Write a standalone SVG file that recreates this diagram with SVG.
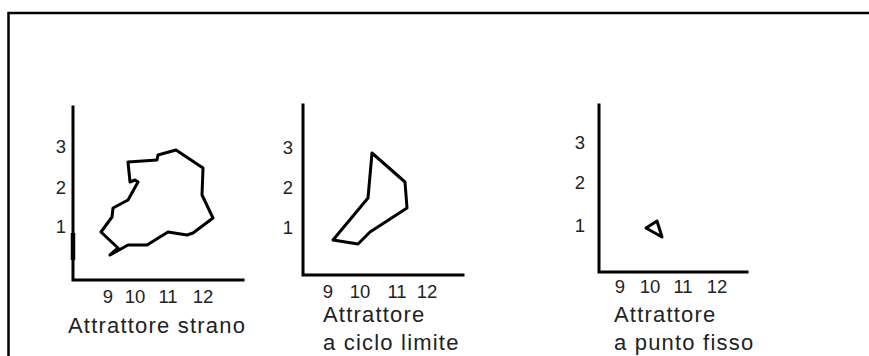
<svg xmlns="http://www.w3.org/2000/svg" width="869" height="356" viewBox="0 0 869 356">
<style>
.ax{fill:none;stroke:#000;stroke-width:3;stroke-linecap:square}
.cv{fill:none;stroke:#000;stroke-width:3;stroke-linejoin:round}
.n{font-family:"Liberation Sans",Arial,sans-serif;font-size:18.5px;fill:#222;text-anchor:middle}
.t{font-family:"Liberation Sans",Arial,sans-serif;font-size:22px;letter-spacing:1.2px;fill:#222}
</style>
<rect width="869" height="356" fill="#fff"/>
<path d="M8.5,356 V13 H869" fill="none" stroke="#000" stroke-width="2.5"/>
<g id="strano">
<path class="ax" d="M73,107 V280 H243"/>
<path d="M73,233 V260" stroke="#000" stroke-width="4.5"/>
<polygon class="cv" points="128,162 157,160 158,155 176,150 203,168 202,195 213,218 193,233 187,235 168,232 147,245 128,245 110,255 118,248 101,232 112,217 113,208 128,200 138,182 135,180 130,182"/>
<text class="n" x="61" y="153">3</text>
<text class="n" x="61" y="194">2</text>
<text class="n" x="61" y="233">1</text>
<text class="n" x="108" y="303">9</text>
<text class="n" x="135" y="303">10</text>
<text class="n" x="168" y="303">11</text>
<text class="n" x="203" y="303">12</text>
<text class="t" x="68" y="333">Attrattore strano</text>
</g>
<g id="ciclo">
<path class="ax" d="M303,105 V275 H463"/>
<polygon class="cv" points="372,153 405,182 407,208 370,232 358,244 333,240 368,198"/>
<text class="n" x="288" y="154">3</text>
<text class="n" x="288" y="194">2</text>
<text class="n" x="288" y="234">1</text>
<text class="n" x="328" y="298">9</text>
<text class="n" x="360" y="298">10</text>
<text class="n" x="397" y="298">11</text>
<text class="n" x="427" y="298">12</text>
<text class="t" x="323" y="322">Attrattore</text>
<text class="t" x="323" y="350">a ciclo limite</text>
</g>
<g id="punto">
<path class="ax" d="M599,105 V272 H747"/>
<polygon class="cv" points="657,221 646,228 662,237" stroke-width="3.5"/>
<text class="n" x="580" y="149">3</text>
<text class="n" x="580" y="189">2</text>
<text class="n" x="580" y="232">1</text>
<text class="n" x="620" y="293">9</text>
<text class="n" x="650" y="293">10</text>
<text class="n" x="683" y="293">11</text>
<text class="n" x="717" y="293">12</text>
<text class="t" x="614" y="322">Attrattore</text>
<text class="t" x="614" y="350">a punto fisso</text>
</g>
</svg>
